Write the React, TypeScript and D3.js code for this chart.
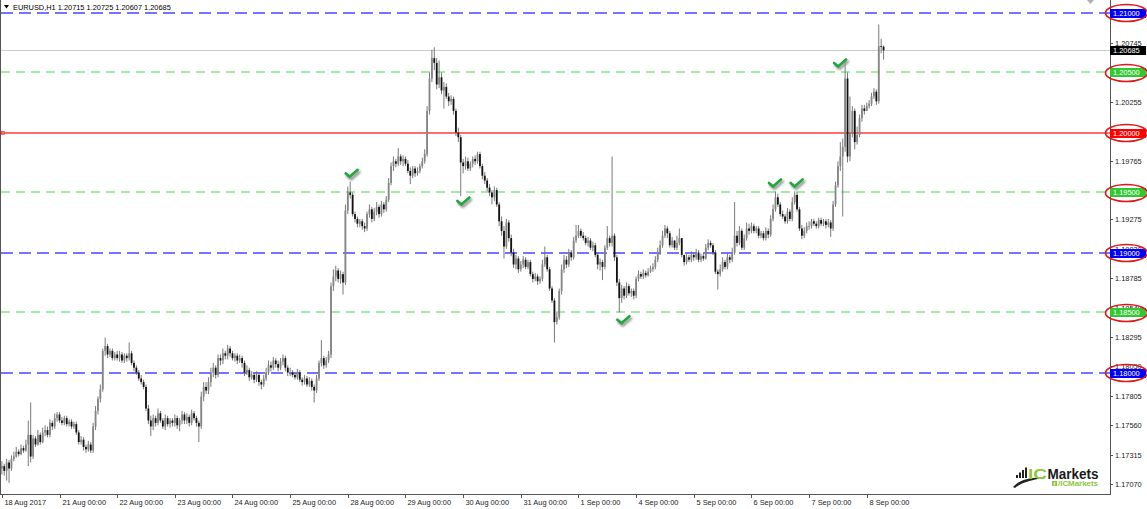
import React from 'react';
import * as d3 from 'd3';

// ---------- DATA (EURUSD H1, 18 Aug 2017 – 8 Sep 2017) ----------
const firstOpen = 1.1720;

const closes = [
  // 18 Aug
  1.1722,1.1718,1.1725,1.1720,1.1728,1.1730,1.1734,1.1732,1.1737,1.1735,1.1740,1.1748,1.1730,1.1745,1.1740,1.1748,1.1742,1.1750,1.1752,1.1748,1.1758,1.1755,1.1762,1.1765,
  // 21 Aug
  1.1760,1.1758,1.1762,1.1757,1.1759,1.1755,1.1757,1.1750,1.1742,1.1744,1.1738,1.1736,1.1740,1.1735,1.1755,1.1768,1.1778,1.1786,1.1818,1.1822,1.1815,1.1818,1.1812,1.1815,
  // 22 Aug
  1.1812,1.1815,1.1810,1.1814,1.1812,1.1816,1.1808,1.1804,1.1800,1.1795,1.1792,1.1788,1.1770,1.1760,1.1755,1.1762,1.1758,1.1766,1.1760,1.1755,1.1762,1.1757,1.1760,1.1758,
  // 23 Aug
  1.1762,1.1756,1.1760,1.1765,1.1760,1.1763,1.1758,1.1766,1.1762,1.1758,1.1755,1.1780,1.1788,1.1785,1.1792,1.1800,1.1804,1.1798,1.1812,1.1810,1.1816,1.1814,1.1820,1.1816,
  // 24 Aug
  1.1812,1.1814,1.1810,1.1812,1.1808,1.1800,1.1802,1.1796,1.1798,1.1794,1.1798,1.1792,1.1790,1.1795,1.1800,1.1806,1.1804,1.1810,1.1807,1.1804,1.1809,1.1812,1.1804,1.1800,
  // 25 Aug
  1.1800,1.1798,1.1796,1.1800,1.1794,1.1792,1.1795,1.1790,1.1793,1.1788,1.1785,1.1795,1.1808,1.1812,1.1806,1.1810,1.1815,1.1872,1.1880,1.1885,1.1878,1.1882,1.1875,1.1935,
  // 28 Aug
  1.1950,1.1948,1.1932,1.1928,1.1924,1.1926,1.1922,1.1920,1.1932,1.1936,1.1928,1.1934,1.1938,1.1932,1.1940,1.1936,1.1944,1.1958,1.1972,1.1976,1.1974,1.1980,1.1976,1.1978,
  // 29 Aug
  1.1974,1.1968,1.1964,1.1970,1.1966,1.1968,1.1972,1.1976,1.1982,1.2018,1.2045,1.2062,1.2058,1.2040,1.2046,1.2035,1.2038,1.2030,1.2026,1.2028,1.2018,1.2000,1.1996,1.1975,
  // 30 Aug
  1.1972,1.1976,1.1970,1.1974,1.1978,1.1976,1.1982,1.1972,1.1964,1.1960,1.1954,1.1950,1.1946,1.1952,1.1940,1.1926,1.1918,1.1905,1.1925,1.1912,1.1900,1.1890,1.1895,1.1886,
  // 31 Aug
  1.1890,1.1894,1.1888,1.1892,1.1882,1.1878,1.1880,1.1876,1.1878,1.1890,1.1896,1.1886,1.1870,1.1860,1.1842,1.1846,1.1868,1.1886,1.1894,1.1890,1.1900,1.1896,1.1910,1.1914,
  // 1 Sep
  1.1918,1.1914,1.1912,1.1908,1.1910,1.1904,1.1906,1.1898,1.1890,1.1892,1.1888,1.1904,1.1912,1.1908,1.1914,1.1896,1.1875,1.1862,1.1870,1.1864,1.1872,1.1866,1.1868,1.1864,
  // 4 Sep
  1.1878,1.1882,1.1880,1.1883,1.1881,1.1884,1.1886,1.1888,1.1894,1.1900,1.1906,1.1914,1.1920,1.1916,1.1906,1.1910,1.1904,1.1908,1.1912,1.1898,1.1892,1.1896,1.1894,1.1898,
  // 5 Sep
  1.1896,1.1900,1.1894,1.1897,1.1895,1.1904,1.1908,1.1906,1.1900,1.1884,1.1882,1.1886,1.1892,1.1888,1.1896,1.1894,1.1900,1.1914,1.1908,1.1918,1.1904,1.1912,1.1920,1.1918,
  // 6 Sep
  1.1922,1.1918,1.1920,1.1914,1.1916,1.1912,1.1918,1.1915,1.1928,1.1936,1.1946,1.1940,1.1932,1.1930,1.1926,1.1934,1.1928,1.1942,1.1948,1.1936,1.1920,1.1914,1.1918,1.1922,
  // 7 Sep
  1.1922,1.1926,1.1924,1.1922,1.1927,1.1924,1.1926,1.1923,1.1925,1.1920,1.1940,1.1956,1.1972,1.1980,1.1988,1.2045,1.1980,1.2000,1.2018,1.1992,1.1998,1.2012,1.2020,1.2018,
  // 8 Sep
  1.2022,1.2024,1.2030,1.2034,1.2026,1.2072,1.20715,1.20685,
];

const highs = [
  1.1726,1.1724,1.1728,1.1727,1.1731,1.1734,1.1738,1.1736,1.1740,1.1739,1.1744,1.1760,1.1775,1.1748,1.1747,1.1752,1.1750,1.1754,1.1756,1.1755,1.1761,1.1760,1.1766,1.1767,
  1.1767,1.1763,1.1764,1.1764,1.1761,1.1761,1.1759,1.1759,1.1752,1.1747,1.1746,1.1740,1.1743,1.1742,1.1758,1.1772,1.1780,1.1790,1.1820,1.1829,1.1824,1.1820,1.1820,1.1817,
  1.1818,1.1818,1.1817,1.1816,1.1816,1.1825,1.1818,1.1810,1.1806,1.1802,1.1798,1.1794,1.1790,1.1773,1.1764,1.1765,1.1764,1.1770,1.1768,1.1762,1.1765,1.1764,1.1762,1.1762,
  1.1765,1.1764,1.1762,1.1768,1.1767,1.1766,1.1765,1.1769,1.1768,1.1764,1.1760,1.1784,1.1792,1.1792,1.1796,1.1804,1.1808,1.1806,1.1815,1.1815,1.1820,1.1818,1.1823,1.1822,
  1.1818,1.1816,1.1816,1.1815,1.1814,1.1810,1.1806,1.1804,1.1801,1.1800,1.1801,1.1800,1.1794,1.1798,1.1804,1.1810,1.1809,1.1813,1.1812,1.1810,1.1812,1.1815,1.1814,1.1806,
  1.1804,1.1802,1.1800,1.1803,1.1802,1.1796,1.1798,1.1797,1.1796,1.1795,1.1790,1.1798,1.1810,1.1827,1.1814,1.1813,1.1818,1.1875,1.1886,1.1889,1.1887,1.1885,1.1884,1.1940,
  1.1955,1.1959,1.1950,1.1934,1.1930,1.1928,1.1928,1.1925,1.1934,1.1940,1.1938,1.1937,1.1942,1.1940,1.1943,1.1942,1.1947,1.1962,1.1975,1.1980,1.1978,1.1987,1.1982,1.1981,
  1.1980,1.1977,1.1971,1.1972,1.1972,1.1971,1.1974,1.1979,1.1986,1.2022,1.2050,1.2069,1.2071,1.2062,1.2060,1.2050,1.2042,1.2041,1.2033,1.2031,1.2030,1.2020,1.2004,1.1998,
  1.1978,1.1980,1.1979,1.1976,1.1980,1.1981,1.1984,1.1984,1.1974,1.1967,1.1962,1.1957,1.1952,1.1955,1.1954,1.1942,1.1930,1.1922,1.1928,1.1927,1.1915,1.1903,1.1898,1.1897,
  1.1893,1.1897,1.1896,1.1894,1.1894,1.1884,1.1883,1.1882,1.1880,1.1894,1.1905,1.1898,1.1888,1.1872,1.1862,1.1850,1.1870,1.1890,1.1898,1.1897,1.1903,1.1902,1.1913,1.1923,
  1.1923,1.1920,1.1917,1.1914,1.1913,1.1912,1.1909,1.1908,1.1900,1.1895,1.1894,1.1906,1.1922,1.1914,1.1980,1.1916,1.1898,1.1878,1.1873,1.1872,1.1875,1.1874,1.1870,1.1870,
  1.1880,1.1885,1.1884,1.1886,1.1885,1.1887,1.1889,1.1891,1.1897,1.1904,1.1910,1.1918,1.1923,1.1922,1.1918,1.1913,1.1910,1.1914,1.1920,1.1902,1.1898,1.1899,1.1898,1.1901,
  1.1900,1.1903,1.1902,1.1899,1.1899,1.1907,1.1911,1.1910,1.1908,1.1902,1.1886,1.1890,1.1896,1.1894,1.1899,1.1898,1.1904,1.1942,1.1918,1.1922,1.1920,1.1915,1.1925,1.1924,
  1.1925,1.1924,1.1922,1.1922,1.1918,1.1918,1.1921,1.1920,1.1931,1.1940,1.1951,1.1949,1.1942,1.1935,1.1932,1.1937,1.1936,1.1946,1.1951,1.1950,1.1938,1.1923,1.1921,1.1925,
  1.1926,1.1928,1.1928,1.1926,1.1929,1.1929,1.1928,1.1928,1.1928,1.1927,1.1943,1.1959,1.1976,1.1992,1.1995,1.2061,1.2050,1.2030,1.2022,1.2020,1.2005,1.2015,1.2023,1.2023,
  1.2025,1.2027,1.2033,1.2037,1.2036,1.2090,1.2078,1.20725,
];

const lows = [
  1.1715,1.1714,1.1710,1.1708,1.1718,1.1726,1.1729,1.1730,1.1731,1.1733,1.1734,1.1722,1.1725,1.1728,1.1738,1.1739,1.1740,1.1741,1.1747,1.1746,1.1746,1.1752,1.1753,1.1759,
  1.1758,1.1756,1.1756,1.1755,1.1755,1.1753,1.1753,1.1748,1.1740,1.1740,1.1735,1.1733,1.1734,1.1733,1.1733,1.1752,1.1765,1.1775,1.1784,1.1814,1.1812,1.1813,1.1810,1.1810,
  1.1810,1.1809,1.1808,1.1808,1.1809,1.1810,1.1806,1.1801,1.1798,1.1793,1.1790,1.1786,1.1768,1.1757,1.1747,1.1752,1.1755,1.1756,1.1758,1.1753,1.1752,1.1755,1.1754,1.1755,
  1.1755,1.1753,1.1751,1.1757,1.1757,1.1757,1.1755,1.1756,1.1760,1.1755,1.1742,1.1753,1.1776,1.1782,1.1782,1.1788,1.1796,1.1795,1.1796,1.1806,1.1807,1.1811,1.1811,1.1813,
  1.1810,1.1809,1.1807,1.1808,1.1804,1.1797,1.1798,1.1793,1.1794,1.1791,1.1792,1.1789,1.1786,1.1788,1.1793,1.1798,1.1801,1.1802,1.1804,1.1801,1.1802,1.1806,1.1801,1.1797,
  1.1797,1.1796,1.1794,1.1794,1.1792,1.1789,1.1790,1.1788,1.1788,1.1785,1.1775,1.1783,1.1793,1.1805,1.1803,1.1804,1.1808,1.1812,1.1868,1.1876,1.1875,1.1874,1.1865,1.1873,
  1.1932,1.1945,1.1930,1.1925,1.1921,1.1921,1.1919,1.1917,1.1918,1.1929,1.1925,1.1926,1.1931,1.1929,1.1930,1.1933,1.1934,1.1942,1.1956,1.1968,1.1971,1.1972,1.1973,1.1972,
  1.1972,1.1966,1.1957,1.1962,1.1963,1.1964,1.1966,1.1970,1.1974,1.1980,1.2015,1.2042,1.2052,1.2036,1.2037,1.2032,1.2020,1.2028,1.2022,1.2023,1.2015,1.1997,1.1992,1.1947,
  1.1966,1.1969,1.1968,1.1968,1.1971,1.1973,1.1974,1.1970,1.1961,1.1957,1.1951,1.1947,1.1940,1.1943,1.1938,1.1922,1.1914,1.1895,1.1903,1.1909,1.1897,1.1887,1.1886,1.1883,
  1.1884,1.1887,1.1886,1.1886,1.1880,1.1875,1.1876,1.1873,1.1874,1.1876,1.1888,1.1884,1.1868,1.1858,1.1825,1.1840,1.1844,1.1865,1.1883,1.1887,1.1888,1.1893,1.1894,1.1908,
  1.1912,1.1912,1.1910,1.1906,1.1905,1.1902,1.1901,1.1896,1.1886,1.1885,1.1877,1.1886,1.1902,1.1905,1.1905,1.1893,1.1872,1.1850,1.1858,1.1861,1.1862,1.1864,1.1863,1.1861,
  1.1862,1.1876,1.1878,1.1878,1.1879,1.1880,1.1883,1.1884,1.1886,1.1892,1.1898,1.1904,1.1912,1.1912,1.1904,1.1904,1.1902,1.1902,1.1906,1.1896,1.1889,1.1890,1.1892,1.1892,
  1.1893,1.1894,1.1892,1.1892,1.1893,1.1894,1.1902,1.1904,1.1898,1.1882,1.1869,1.1880,1.1884,1.1886,1.1886,1.1891,1.1892,1.1898,1.1905,1.1906,1.1902,1.1902,1.1910,1.1915,
  1.1916,1.1916,1.1916,1.1912,1.1912,1.1910,1.1910,1.1912,1.1913,1.1926,1.1934,1.1938,1.1930,1.1928,1.1924,1.1924,1.1926,1.1926,1.1940,1.1934,1.1918,1.1911,1.1912,1.1916,
  1.1919,1.1920,1.1922,1.1920,1.1920,1.1922,1.1922,1.1920,1.1921,1.1913,1.1918,1.1938,1.1954,1.1968,1.1930,1.1984,1.1975,1.1976,1.1996,1.1986,1.1990,1.1996,1.2009,1.2015,
  1.2018,1.2020,1.2022,1.2028,1.2023,1.2024,1.2066,1.20607,
];

const dayLabels = [
  '18 Aug 2017', '21 Aug 00:00', '22 Aug 00:00', '23 Aug 00:00', '24 Aug 00:00', '25 Aug 00:00',
  '28 Aug 00:00', '29 Aug 00:00', '30 Aug 00:00', '31 Aug 00:00', '1 Sep 00:00', '4 Sep 00:00',
  '5 Sep 00:00', '6 Sep 00:00', '7 Sep 00:00', '8 Sep 00:00',
];
const barsPerDay = 24;

const priceTicks = [
  1.17070, 1.17315, 1.17560, 1.17805, 1.18050, 1.18295, 1.18540, 1.18785, 1.19030,
  1.19275, 1.19520, 1.19765, 1.20010, 1.20255, 1.20500, 1.20745, 1.20990,
];

const blueLevels = [1.21, 1.19, 1.18];
const greenLevels = [1.205, 1.195, 1.185];
const redLevels = [1.20];
const currentPrice = 1.20685;

// check-mark annotations: [bar index, price]
const checkMarks: [number, number][] = [
  [145.6, 1.1966], [192.1, 1.1943], [258.7, 1.1844], [321.8, 1.1958], [330.8, 1.1958], [348.9, 1.2058],
];

const header = 'EURUSD,H1  1.20715 1.20725 1.20607 1.20685';

// ---------- CHART ----------
const W = 1147, H = 509;
const AXIS_X = 1110;
const AXIS_Y = 494;
const FONT = '"Liberation Sans", Arial, sans-serif';

export default function App() {
  const x = d3.scaleLinear().domain([0, 460]).range([1.85, 1107]);
  const y = d3.scaleLinear().domain([1.17, 1.21]).range([492.5, 12.5]);
  const fmt = d3.format('.5f');

  const bars = closes.map((c, i) => {
    const o = i === 0 ? firstOpen : closes[i - 1];
    const h = Math.max(highs[i], o, c);
    const l = Math.min(lows[i], o, c);
    return { i, o, h, l, c };
  });

  const bodyW = 1.8;

  const levelLine = (p: number, color: string, dash: string | undefined, key: string, sw = 1, off = 0.5) => (
    <line key={key} x1={1} x2={AXIS_X} y1={Math.round(y(p)) + off} y2={Math.round(y(p)) + off}
      stroke={color} strokeWidth={sw} strokeDasharray={dash} />
  );

  const box = (p: number, fill: string, key: string) => {
    const cy = Math.round(y(p)) + 0.5;
    return (
      <g key={key}>
        <rect x={AXIS_X} y={cy - 4.5} width={36} height={9} fill={fill} />
        <text x={AXIS_X + 3} y={cy} dy="0.35em" fontSize={7.4} fill="#fff" fontFamily={FONT}>{fmt(p)}</text>
      </g>
    );
  };

  const allBoxLevels = [
    ...blueLevels.map(p => ({ p, c: '#0000ff' })),
    ...greenLevels.map(p => ({ p, c: '#32c832' })),
    ...redLevels.map(p => ({ p, c: '#ff0000' })),
  ];

  return (
    <svg width={W} height={H} viewBox={`0 0 ${W} ${H}`}
      style={{ position: 'absolute', left: 0, top: 0, background: '#fff', display: 'block' }}>
      <defs>
        <filter id="shadow" x="-50%" y="-50%" width="200%" height="200%">
          <feGaussianBlur stdDeviation="0.8" />
        </filter>
      </defs>
      <rect x={0} y={0} width={W} height={H} fill="#fff" />

      {/* header */}
      <path d="M4,5 L9,5 L6.5,8.5 Z" fill="#000" />
      <text x={13} y={10} fontSize={7.4} fontFamily={FONT} fill="#000">{header}</text>
      <path d="M1087,0 L1094,0 L1090.5,4 Z" fill="#b0b0b0" />

      {/* current price line */}
      {levelLine(currentPrice, '#cccccc', undefined, 'cur')}

      {/* horizontal levels */}
      {greenLevels.map((p, k) => levelLine(p, '#86e486', '9,6', 'g' + k, 1.6, 0))}
      {blueLevels.map((p, k) => levelLine(p, '#7474ff', '12,6', 'b' + k, 2, 0))}
      {redLevels.map((p, k) => levelLine(p, '#ff6e6e', undefined, 'r' + k, 2, 0))}
      {redLevels.map((p, k) => (
        <rect key={'rm' + k} x={1.5} y={Math.round(y(p)) - 1.5} width={3} height={3} fill="none" stroke="#ff3c3c" strokeWidth={0.8} />
      ))}

      {/* candles */}
      <g>
        {bars.map(b => {
          const cx = x(b.i);
          const bull = b.c >= b.o;
          const top = y(Math.max(b.o, b.c));
          const bot = y(Math.min(b.o, b.c));
          return (
            <g key={b.i}>
              <line x1={cx} x2={cx} y1={y(b.h)} y2={y(b.l)} stroke="#6a6a6a" strokeWidth={0.9} />
              <rect x={cx - bodyW / 2} y={top} width={bodyW} height={Math.max(0.8, bot - top)}
                fill={bull ? '#858585' : '#111'} />
            </g>
          );
        })}
      </g>

      {/* check marks */}
      {checkMarks.map(([bi, p], k) => {
        const cx = x(bi), cy = y(p);
        const d = 'M-6,0 L-2,3.5 L6,-3.5';
        return (
          <g key={'ck' + k} transform={`translate(${cx},${cy})`}>
            <path d={d} transform="translate(1.5,2.2)" stroke="#9a9a9a" strokeWidth={3} fill="none"
              strokeLinecap="round" strokeLinejoin="round" filter="url(#shadow)" />
            <path d={d} stroke="#1fa83c" strokeWidth={2.6} fill="none" strokeLinecap="round" strokeLinejoin="round" />
          </g>
        );
      })}

      {/* frame */}
      <line x1={0.5} x2={0.5} y1={0} y2={AXIS_Y} stroke="#555" strokeWidth={1} />
      <line x1={AXIS_X + 0.5} x2={AXIS_X + 0.5} y1={0} y2={AXIS_Y + 0.5} stroke="#555" strokeWidth={1} />
      <line x1={0} x2={AXIS_X + 1} y1={AXIS_Y + 0.5} y2={AXIS_Y + 0.5} stroke="#555" strokeWidth={1} />

      {/* price axis ticks */}
      {priceTicks.map((p, k) => {
        const cy = Math.round(y(p)) + 0.5;
        return (
          <g key={'pt' + k}>
            <line x1={AXIS_X} x2={AXIS_X + 3} y1={cy} y2={cy} stroke="#555" />
            <text x={AXIS_X + 5} y={cy} dy="0.35em" fontSize={7.4} fontFamily={FONT} fill="#222">{fmt(p)}</text>
          </g>
        );
      })}
      {box(currentPrice, '#000', 'curbox')}
      {allBoxLevels.map((l, k) => box(l.p, l.c, 'box' + k))}
      {allBoxLevels.map((l, k) => (
        <ellipse key={'el' + k} cx={AXIS_X + 16.5} cy={y(l.p) + 0.5} rx={21} ry={8.5}
          fill="none" stroke="#e01818" strokeWidth={1.6} />
      ))}

      {/* time axis */}
      {dayLabels.map((lab, d) => {
        const tx = Math.round(x(d * barsPerDay)) + 0.5;
        return (
          <g key={'dl' + d}>
            <line x1={tx} x2={tx} y1={AXIS_Y} y2={AXIS_Y + 4} stroke="#555" />
            <text x={tx + 2} y={AXIS_Y + 11} fontSize={7.4} fontFamily={FONT} fill="#222">{lab}</text>
          </g>
        );
      })}

      {/* logo */}
      <g>
        {[0, 1, 2, 3].map(k => (
          <rect key={'lb' + k} x={1016 + k * 3} y={478 - (3 + k * 2.5)} width={2} height={3 + k * 2.5} fill="#222" />
        ))}
        <path d="M1013,487 C1020,479 1032,477 1046,478 C1034,479 1022,482 1015,488 Z" fill="#222" />
        <text x={1028} y={478.5} fontSize={15} fontWeight="bold" fontFamily={FONT} fill="#8dc63f"
          textLength={19} lengthAdjust="spacingAndGlyphs">IC</text>
        <text x={1047.5} y={478.5} fontSize={14} fontWeight="bold" fontFamily={FONT} fill="#1a1a1a"
          textLength={51} lengthAdjust="spacingAndGlyphs">Markets</text>
        <rect x={1052} y={481} width={5} height={5} fill="#8dc63f" />
        <text x={1053.6} y={485.6} fontSize={5} fontWeight="bold" fontFamily={FONT} fill="#fff">f</text>
        <text x={1058} y={486} fontSize={6.5} fontWeight="bold" fontFamily={FONT} fill="#8dc63f"
          textLength={40} lengthAdjust="spacingAndGlyphs">/ICMarkets</text>
      </g>
    </svg>
  );
}
